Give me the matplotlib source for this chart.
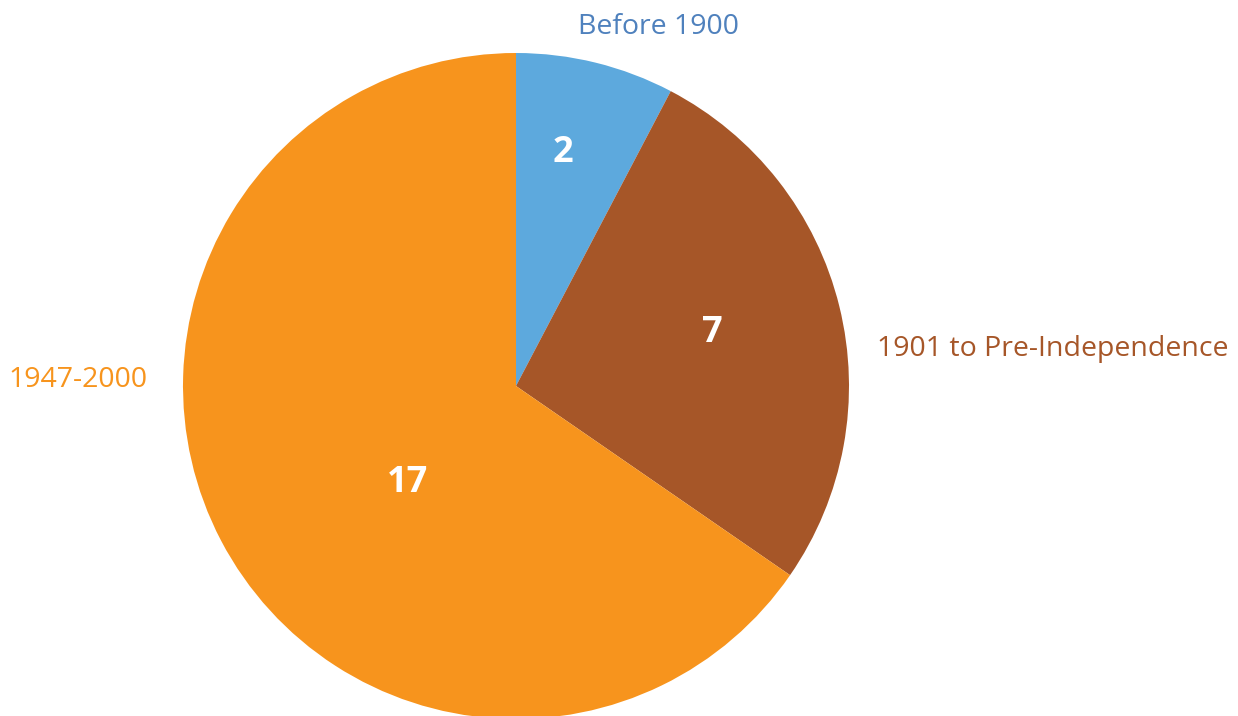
import matplotlib
matplotlib.use("Agg")
import matplotlib.pyplot as plt

categories = ["Before 1900", "1901 to Pre-Independence", "1947-2000"]
values = [2, 7, 17]
colors = ["#5DA9DD", "#A65628", "#F7941D"]
label_colors = ["#4F81BD", "#A65628", "#F7941D"]

W, H = 1238, 716
fig = plt.figure(figsize=(W / 100, H / 100), dpi=100)
ax = fig.add_axes([0, 0, 1, 1])

cx, cy, R = 516, 716 - 386, 333
ax.pie(values, colors=colors, startangle=90, counterclock=False,
       center=(cx, cy), radius=R, frame=True,
       wedgeprops=dict(linewidth=0))
ax.set_xlim(0, W)
ax.set_ylim(0, H)
ax.set_aspect("equal")
ax.axis("off")

font = "Open Sans"
# value labels
val_pos = [(563, 716 - 153), (712, 716 - 333), (408, 716 - 483)]
for v, (x, y) in zip(values, val_pos):
    ax.text(x, y, str(v), color="white", fontsize=26, fontweight="bold",
            family=font, ha="center", va="center")

# category labels
fs = 20.5
ax.text(659, 716 - 27, categories[0], color=label_colors[0], fontsize=fs,
        family=font, ha="center", va="center")
ax.text(877, 716 - 349, categories[1], color=label_colors[1], fontsize=fs,
        family=font, ha="left", va="center")
ax.text(148, 716 - 380, categories[2], color=label_colors[2], fontsize=fs,
        family=font, ha="right", va="center")

fig.savefig("out.png", dpi=100)
